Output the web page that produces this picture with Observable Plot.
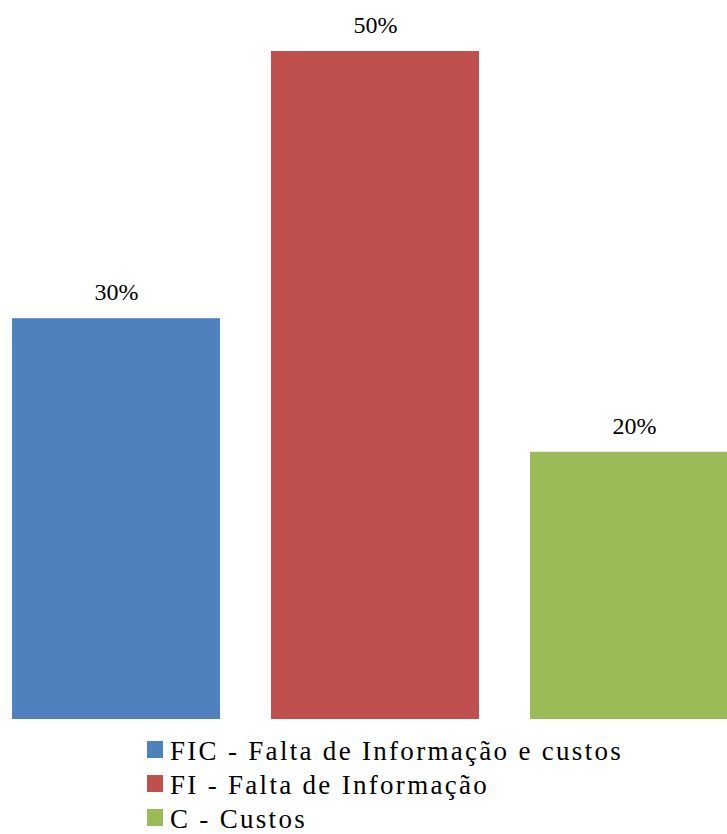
<!DOCTYPE html>
<html>
<head>
<meta charset="utf-8">
<script src="https://cdn.jsdelivr.net/npm/d3@7"></script>
<script src="https://cdn.jsdelivr.net/npm/@observablehq/plot@0.6"></script>
<style>
  html, body { margin: 0; padding: 0; background: #fff; overflow: hidden; width: 727px; height: 834px; }
  #chart svg { display: block; overflow: visible; }
  #legend { margin-top: 14px; margin-left: 147px; font-family: "Liberation Serif", Tinos, "Times New Roman", Times, "DejaVu Serif", serif; font-size: 27px; letter-spacing: 2.3px; color: #000; }
  .row { display: flex; height: 34px; }
  .sw { width: 16px; height: 17px; margin-top: 7px; margin-right: 7px; flex: none; }
  .lbl { line-height: 34px; white-space: nowrap; }
</style>
</head>
<body>
<div id="chart"></div>
<div id="legend"></div>
<script>
const categories = ["FIC", "FI", "C"];
const labels = ["FIC - Falta de Informação e custos", "FI - Falta de Informação", "C - Custos"];
const values = [30, 50, 20];
const colors = ["#4F81BD", "#C0504D", "#9BBB59"];

const data = categories.map((c, i) => ({cat: c, value: values[i], label: values[i] + "%"}));

const chart = Plot.plot({
  width: 727,
  height: 720,
  marginLeft: 0, marginRight: 0, marginTop: 0, marginBottom: 0,
  style: {background: "white", overflow: "visible"},
  x: {domain: categories, range: [12, 738], paddingInner: 0.197, paddingOuter: 0, axis: null},
  y: {domain: [0, 50], range: [719, 51], axis: null},
  color: {domain: categories, range: colors},
  marks: [
    Plot.barY(data, {x: "cat", y: "value", fill: "cat"}),
    Plot.text(data, {x: "cat", y: "value", text: "label", dy: -26, fontSize: 24,
      fontFamily: "'Liberation Serif', Tinos, 'Times New Roman', Times, 'DejaVu Serif', serif", fill: "#000"})
  ]
});
document.getElementById("chart").appendChild(chart);

const legend = document.getElementById("legend");
labels.forEach((t, i) => {
  const row = document.createElement("div");
  row.className = "row";
  const sw = document.createElement("div");
  sw.className = "sw";
  sw.style.background = colors[i];
  const lb = document.createElement("span");
  lb.className = "lbl";
  lb.textContent = t;
  row.appendChild(sw);
  row.appendChild(lb);
  legend.appendChild(row);
});
</script>
</body>
</html>
